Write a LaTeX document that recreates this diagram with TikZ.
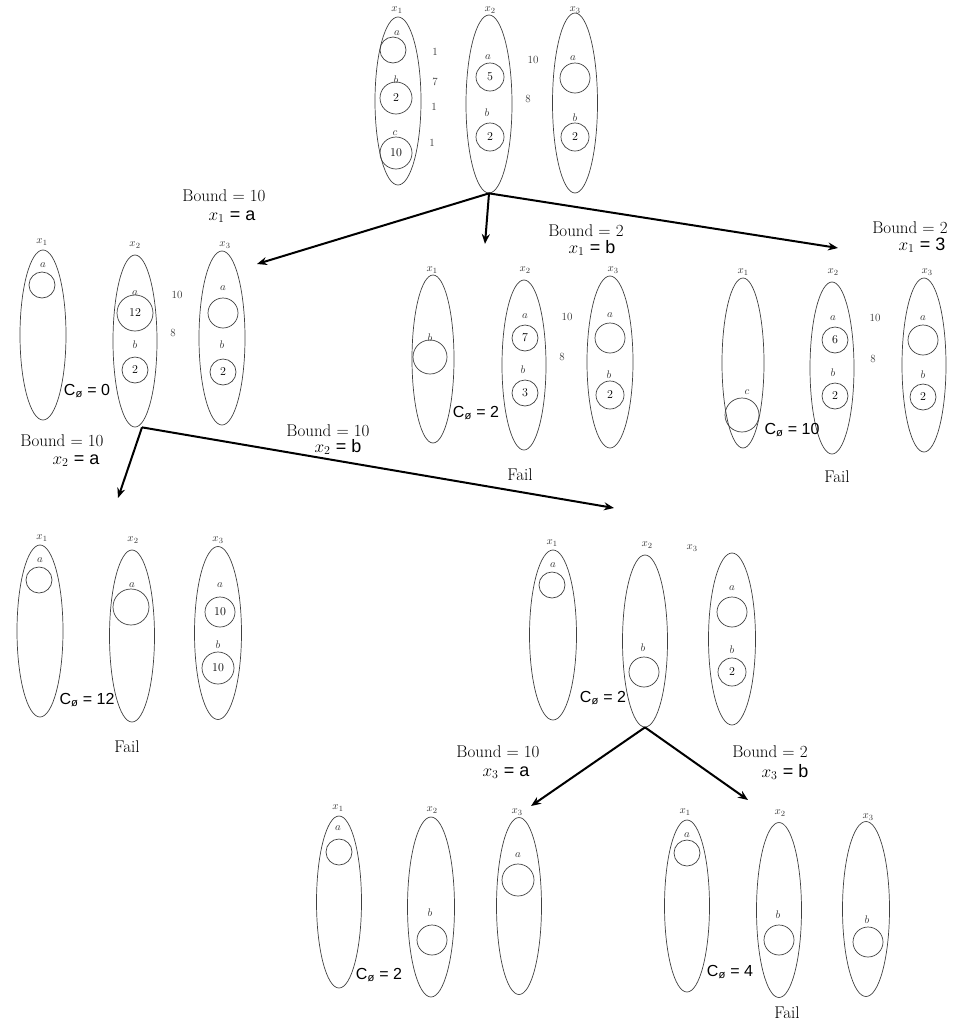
\documentclass[tikz,border=0pt]{standalone}
\usepackage{fontspec}
\newfontfamily\arialf{Liberation Sans}
\usetikzlibrary{shapes.geometric,arrows.meta}
\begin{document}
\begin{tikzpicture}[x=1pt,y=-1pt,
  ell/.style={draw=black!75, line width=0.7pt, ellipse, inner sep=0pt, minimum width=45, minimum height=172},
  val/.style={draw=black!75, line width=0.7pt, circle, inner sep=0pt, minimum size=28, font=\fontsize{12}{14}\selectfont},
  lbl/.style={font=\fontsize{11}{13}\selectfont, text=black!80, inner sep=0pt},
  vlab/.style={font=\fontsize{11}{13}\selectfont, text=black!80, inner sep=0pt},
  wt/.style={font=\fontsize{11}{13}\selectfont, text=black!80, inner sep=0pt},
  bnd/.style={font=\fontsize{17}{19}\selectfont, inner sep=0pt, anchor=base},
  asg/.style={font=\fontsize{18}{20}\selectfont, inner sep=0pt, anchor=base},
  cst/.style={font=\arialf\fontsize{16}{18}\selectfont, inner sep=0pt},
  fail/.style={font=\fontsize{17}{19}\selectfont, inner sep=0pt},
  arr/.style={-{Stealth[length=10pt,width=8pt]}, line width=2pt}]
\useasboundingbox (0,0) rectangle (958,1026);

% ---------- root ----------
\node[ell, minimum width=46, minimum height=168] (r1) at (398,101) {};
\node[ell, minimum width=46, minimum height=178] (r2) at (489,104) {};
\node[ell, minimum width=45, minimum height=180] (r3) at (575,103) {};
\node[vlab] (r1l) at (397,10) {$x_1$};
\node[vlab] (r2l) at (490,10) {$x_2$};
\node[vlab] (r3l) at (575,10) {$x_3$};
\node[lbl] (r1al) at (397,33) {$a$};
\node[val, minimum size=26] (r1a) at (393,50) {};
\node[lbl] (r1bl) at (396,80) {$b$};
\node[val, minimum size=32] (r1b) at (396,98) {2};
\node[lbl] (r1cl) at (395,133) {$c$};
\node[val, minimum size=32] (r1c) at (396,153) {10};
\node[lbl] (r2al) at (488,57) {$a$};
\node[val] (r2a) at (490,77) {5};
\node[lbl] (r2bl) at (487,113) {$b$};
\node[val] (r2b) at (490,137) {2};
\node[lbl] (r3al) at (573,58) {$a$};
\node[val, minimum size=30] (r3a) at (575,78) {};
\node[lbl] (r3bl) at (575,118) {$b$};
\node[val] (r3b) at (575,137) {2};
\node[wt] (rw1) at (435,52) {1};
\node[wt] (rw2) at (435,82) {7};
\node[wt] (rw3) at (434,107) {1};
\node[wt] (rw4) at (432,143) {1};
\node[wt] (rw5) at (533,60) {10};
\node[wt] (rw6) at (528,99) {8};

% ---------- x1 = a ----------
\node[ell, minimum width=46, minimum height=170] (a1) at (43,335) {};
\node[ell, minimum width=44, minimum height=172] (a2) at (135,341) {};
\node[ell, minimum width=46, minimum height=174] (a3) at (222,338) {};
\node[vlab] (a1l) at (42,242) {$x_1$};
\node[vlab] (a2l) at (135,245) {$x_2$};
\node[vlab] (a3l) at (225,245) {$x_3$};
\node[lbl] (a1al) at (43,265) {$a$};
\node[val, minimum size=26] (a1a) at (42,285) {};
\node[lbl] (a2al) at (135,293) {$a$};
\node[val, minimum size=36] (a2a) at (135,313) {12};
\node[lbl] (a2bl) at (135,345) {$b$};
\node[val, minimum size=26] (a2b) at (135,370) {2};
\node[lbl] (a3al) at (223,288) {$a$};
\node[val, minimum size=30] (a3a) at (223,313) {};
\node[lbl] (a3bl) at (222,345) {$b$};
\node[val, minimum size=26] (a3b) at (223,372) {2};
\node[wt] (aw1) at (177,295) {10};
\node[wt] (aw2) at (173,333) {8};
\node[cst] (ac) at (87,391) {C\textsubscript{ø} = 0};

% ---------- x1 = b ----------
\node[ell, minimum width=42, minimum height=168] (b1) at (433,359) {};
\node[ell, minimum width=44, minimum height=170] (b2) at (524,365) {};
\node[ell, minimum width=46, minimum height=172] (b3) at (610,362) {};
\node[vlab] (b1l) at (432,270) {$x_1$};
\node[vlab] (b2l) at (525,270) {$x_2$};
\node[vlab] (b3l) at (613,270) {$x_3$};
\node[lbl] (b1bl) at (430,338) {$b$};
\node[val, minimum size=34] (b1b) at (430,357) {};
\node[lbl] (b2al) at (525,316) {$a$};
\node[val, minimum size=26] (b2a) at (525,338) {7};
\node[lbl] (b2bl) at (523,370) {$b$};
\node[val, minimum size=26] (b2b) at (525,393) {3};
\node[lbl] (b3al) at (610,315) {$a$};
\node[val, minimum size=30] (b3a) at (610,338) {};
\node[lbl] (b3bl) at (609,375) {$b$};
\node[val, minimum size=28] (b3b) at (610,395) {2};
\node[wt] (bw1) at (567,317) {10};
\node[wt] (bw2) at (562,357) {8};
\node[cst] (bc) at (476,413) {C\textsubscript{ø} = 2};
\node[fail] (bf) at (520,475) {Fail};

% ---------- x1 = c ----------
\node[ell, minimum width=42, minimum height=170] (c1) at (743,363) {};
\node[ell, minimum width=44, minimum height=172] (c2) at (832,368) {};
\node[ell, minimum width=44, minimum height=174] (c3) at (924,365) {};
\node[vlab] (c1l) at (743,272) {$x_1$};
\node[vlab] (c2l) at (833,272) {$x_2$};
\node[vlab] (c3l) at (927,272) {$x_3$};
\node[lbl] (c1cl) at (747,392) {$c$};
\node[val, minimum size=34] (c1c) at (742,415) {};
\node[lbl] (c2al) at (833,318) {$a$};
\node[val, minimum size=26] (c2a) at (835,340) {6};
\node[lbl] (c2bl) at (833,373) {$b$};
\node[val, minimum size=26] (c2b) at (835,396) {2};
\node[lbl] (c3al) at (923,318) {$a$};
\node[val, minimum size=30] (c3a) at (923,340) {};
\node[lbl] (c3bl) at (923,375) {$b$};
\node[val, minimum size=26] (c3b) at (923,397) {2};
\node[wt] (cw1) at (875,318) {10};
\node[wt] (cw2) at (873,359) {8};
\node[cst] (cc) at (792,430) {C\textsubscript{ø} = 10};
\node[fail] (cf) at (837,477) {Fail};

% ---------- x2 = a ----------
\node[ell, minimum width=46, minimum height=172] (d1) at (40,631) {};
\node[ell, minimum width=45, minimum height=172] (d2) at (132,636) {};
\node[ell, minimum width=47, minimum height=173] (d3) at (218,633) {};
\node[vlab] (d1l) at (42,538) {$x_1$};
\node[vlab] (d2l) at (133,540) {$x_2$};
\node[vlab] (d3l) at (218,540) {$x_3$};
\node[lbl] (d1al) at (40,560) {$a$};
\node[val, minimum size=26] (d1a) at (39,580) {};
\node[lbl] (d2al) at (132,585) {$a$};
\node[val, minimum size=36] (d2a) at (131,607) {};
\node[lbl] (d3al) at (220,585) {$a$};
\node[val, minimum size=30] (d3a) at (220,612) {10};
\node[lbl] (d3bl) at (218,645) {$b$};
\node[val, minimum size=32] (d3b) at (218,668) {10};
\node[cst] (dc) at (87,700) {C\textsubscript{ø} = 12};
\node[fail] (df) at (127,747) {Fail};

% ---------- x2 = b ----------
\node[ell, minimum width=47, minimum height=170] (e1) at (553,635) {};
\node[ell, minimum width=45, minimum height=172] (e2) at (645,641) {};
\node[ell, minimum width=47, minimum height=172] (e3) at (732,639) {};
\node[vlab] (e1l) at (552,543) {$x_1$};
\node[vlab] (e2l) at (647,545) {$x_2$};
\node[vlab] (e3l) at (692,548) {$x_3$};
\node[lbl] (e1al) at (553,565) {$a$};
\node[val, minimum size=26] (e1a) at (552,585) {};
\node[lbl] (e2bl) at (643,648) {$b$};
\node[val, minimum size=30] (e2b) at (644,672) {};
\node[lbl] (e3al) at (732,588) {$a$};
\node[val, minimum size=30] (e3a) at (732,612) {};
\node[lbl] (e3bl) at (732,650) {$b$};
\node[val, minimum size=28] (e3b) at (732,672) {2};
\node[cst] (ec) at (603,698) {C\textsubscript{ø} = 2};

% ---------- x3 = a ----------
\node[ell, minimum width=45, minimum height=172] (f1) at (339,902) {};
\node[ell, minimum width=47, minimum height=180] (f2) at (431,907) {};
\node[ell, minimum width=45, minimum height=177] (f3) at (519,906) {};
\node[vlab] (f1l) at (338,808) {$x_1$};
\node[vlab] (f2l) at (432,810) {$x_2$};
\node[vlab] (f3l) at (517,812) {$x_3$};
\node[lbl] (f1al) at (338,828) {$a$};
\node[val, minimum size=26] (f1a) at (339,852) {};
\node[lbl] (f2bl) at (430,913) {$b$};
\node[val, minimum size=30] (f2b) at (432,940) {};
\node[lbl] (f3al) at (518,855) {$a$};
\node[val, minimum size=32] (f3a) at (518,880) {};
\node[cst] (fc) at (379,975) {C\textsubscript{ø} = 2};

% ---------- x3 = b ----------
\node[ell, minimum width=45, minimum height=172] (g1) at (687,906) {};
\node[ell, minimum width=45, minimum height=175] (g2) at (779,910) {};
\node[ell, minimum width=47, minimum height=175] (g3) at (866,909) {};
\node[vlab] (g1l) at (685,812) {$x_1$};
\node[vlab] (g2l) at (780,813) {$x_2$};
\node[vlab] (g3l) at (868,817) {$x_3$};
\node[lbl] (g1al) at (687,835) {$a$};
\node[val, minimum size=26] (g1a) at (687,853) {};
\node[lbl] (g2bl) at (778,915) {$b$};
\node[val, minimum size=30] (g2b) at (779,940) {};
\node[lbl] (g3bl) at (867,920) {$b$};
\node[val, minimum size=30] (g3b) at (868,942) {};
\node[cst] (gc) at (730,972) {C\textsubscript{ø} = 4};
\node[fail] (gf) at (787,1013) {Fail};

% ---------- branch labels (placed by baseline) ----------
\node[bnd] (l1b) at (224,201) {Bound = 10};
\node[asg] (l1a) at (232,220) {$x_1$ {\arialf = a}};
\node[bnd] (l2b) at (586,236) {Bound = 2};
\node[asg] (l2a) at (592,253) {$x_1$ {\arialf = b}};
\node[bnd] (l3b) at (910,233) {Bound = 2};
\node[asg] (l3a) at (922,250) {$x_1$ {\arialf = 3}};
\node[bnd] (l4b) at (62,446) {Bound = 10};
\node[asg] (l4a) at (76,464) {$x_2$ {\arialf = a}};
\node[bnd] (l5b) at (328,436) {Bound = 10};
\node[asg] (l5a) at (338,452) {$x_2$ {\arialf = b}};
\node[bnd] (l6b) at (498,757) {Bound = 10};
\node[asg] (l6a) at (506,776) {$x_3$ {\arialf = a}};
\node[bnd] (l7b) at (770,757) {Bound = 2};
\node[asg] (l7a) at (785,777) {$x_3$ {\arialf = b}};

% ---------- arrows ----------
\coordinate (t1) at (257,264);
\coordinate (t2) at (485,244);
\coordinate (t3) at (838,248);
\coordinate (t4) at (118,498);
\coordinate (t5) at (614,508);
\coordinate (t6) at (531,806);
\coordinate (t7) at (748,800);
\draw[arr] (r2.south) -- (t1);
\draw[arr] (r2.south) -- (t2);
\draw[arr] (r2.south) -- (t3);
\draw[arr] ([xshift=7pt]a2.south) -- (t4);
\draw[arr] ([xshift=7pt]a2.south) -- (t5);
\draw[arr] (e2.south) -- (t6);
\draw[arr] (e2.south) -- (t7);
\end{tikzpicture}
\end{document}
